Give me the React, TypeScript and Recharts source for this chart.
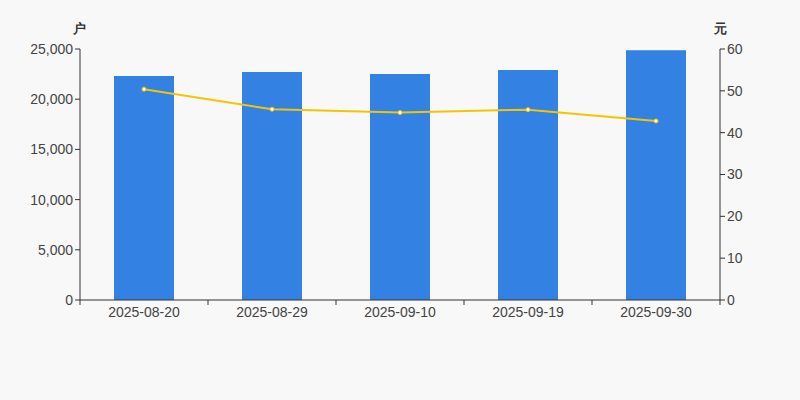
import React from "react";
import {
  ComposedChart,
  Bar,
  Line,
  XAxis,
  YAxis,
} from "recharts";

const dates = ["2025-08-20", "2025-08-29", "2025-09-10", "2025-09-19", "2025-09-30"];
const holders = [22310, 22710, 22510, 22910, 24870];
const avgPrice = [50.4, 45.6, 44.8, 45.5, 42.8];
const leftTicks = [0, 5000, 10000, 15000, 20000, 25000];
const rightTicks = [0, 10, 20, 30, 40, 50, 60];

const data = dates.map((d, i) => ({ date: d, holders: holders[i], price: avgPrice[i] }));

const FONT = "'Liberation Sans', Arial, sans-serif";
const AXIS = "#333";
const BAND = 128;

const DateTick = (props: any) => {
  const { x, y, payload, index } = props;
  return (
    <g>
      <line x1={x - BAND / 2} y1={y - 8} x2={x - BAND / 2} y2={y - 3} stroke={AXIS} />
      {index === dates.length - 1 && (
        <line x1={x + BAND / 2} y1={y - 8} x2={x + BAND / 2} y2={y - 3} stroke={AXIS} />
      )}
      <text x={x} y={y + 9} textAnchor="middle" fill="#444" fontSize={14} fontFamily={FONT}>
        {payload.value}
      </text>
    </g>
  );
};

export default function App() {
  return (
    <div style={{ position: "absolute", left: 0, top: 0, width: 800, height: 400, background: "#f8f8f8" }}>
      <ComposedChart
        width={800}
        height={400}
        data={data}
        margin={{ top: 49, right: 20, bottom: 70, left: 20 }}
      >
        <XAxis
          dataKey="date"
          tickLine={false}
          axisLine={{ stroke: AXIS }}
          tick={<DateTick />}
          height={30}
          interval={0}
        />
        <YAxis
          yAxisId="left"
          width={60}
          domain={[0, 25000]}
          ticks={leftTicks}
          interval={0}
          axisLine={{ stroke: AXIS }}
          tickLine={{ stroke: AXIS }}
          tickSize={5}
          tick={{ fill: "#444", fontSize: 14, fontFamily: FONT }}
          tickFormatter={(v: number) => v.toLocaleString("en-US")}
          label={{ value: "户", position: "insideTopRight", offset: 0, dy: -25, dx: 6, fill: "#333", fontSize: 13, fontWeight: "bold", fontFamily: FONT }}
        />
        <YAxis
          yAxisId="right"
          orientation="right"
          width={60}
          domain={[0, 60]}
          ticks={rightTicks}
          interval={0}
          axisLine={{ stroke: AXIS }}
          tickLine={{ stroke: AXIS }}
          tickSize={5}
          tick={{ fill: "#444", fontSize: 14, fontFamily: FONT }}
          label={{ value: "元", position: "insideTopLeft", offset: 0, dy: -25, dx: -6, fill: "#333", fontSize: 13, fontWeight: "bold", fontFamily: FONT }}
        />
        <Bar yAxisId="left" dataKey="holders" fill="#3381e3" barSize={60} isAnimationActive={false} />
        <Line
          yAxisId="right"
          dataKey="price"
          stroke="#f5c400"
          strokeWidth={2}
          dot={{ r: 2, fill: "#fff", stroke: "#f5c400", strokeWidth: 1 }}
          activeDot={false}
          isAnimationActive={false}
        />
      </ComposedChart>
    </div>
  );
}
